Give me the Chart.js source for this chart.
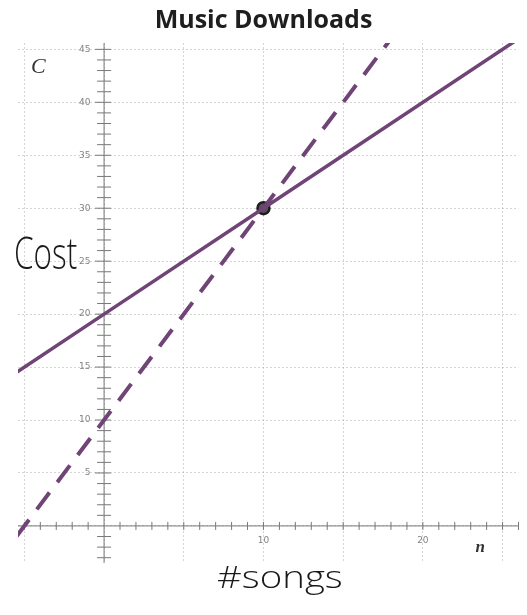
<!DOCTYPE html>
<html>
<head>
<meta charset="utf-8">
<script src="https://cdn.jsdelivr.net/npm/chart.js@4"></script>
<style>
	html, body { margin: 0; padding: 0; background: #fff; }
	#wrap { width: 527px; height: 615px; }
</style>
</head>
<body>
<div id="wrap"><canvas id="downloadsplot" width="527" height="615"></canvas></div>
<script>
const minN = -5.4; // Left edge of the grid (number of songs)
const maxN = 26; // Right edge of the grid
const minC = -3.5; // Bottom edge of the grid (cost)
const maxC = 45.6; // Top edge of the grid
const lineColor = 'rgba(112,68,118,1)';
const axisColor = 'rgba(120,120,120,1)';
const titleText = 'Music Downloads';

// Solid line: plan with a fee
const planA_n = [-5.5, 0, 10, 26];
const planA_C = [14.5, 20, 30, 46];
// Dashed line: plan without a fee
const planB_n = [-5.5, 0, 10, 18];
const planB_C = [-1, 10, 30, 46];
// Marked intersection
const meetN = [10];
const meetC = [30];
// Which tick labels are printed
const xLabels = [10, 20];
const yLabels = [5, 10, 15, 20, 25, 30, 35, 40, 45];

function toPoints(xs, ys) {
	return xs.map((x, i) => ({x: x, y: ys[i]}));
}

// Draws the axis lines with a tick at every unit, plus the written labels
const axesPlugin = {
	id: 'axesPlugin',
	beforeDatasetsDraw(chart) {
		const ctx = chart.ctx;
		const xs = chart.scales.x, ys = chart.scales.y;
		const x0 = xs.getPixelForValue(0), y0 = ys.getPixelForValue(0);
		const area = chart.chartArea;
		ctx.save();
		ctx.strokeStyle = axisColor;
		ctx.lineWidth = 1;
		ctx.beginPath();
		ctx.moveTo(x0, area.top); ctx.lineTo(x0, area.bottom);
		ctx.moveTo(area.left, y0); ctx.lineTo(area.right, y0);
		for (let c = Math.ceil(minC); c <= Math.floor(maxC); c++) {
			if (c == 0) continue;
			let py = ys.getPixelForValue(c);
			let left = (c % 5 == 0) ? 9 : 7;
			ctx.moveTo(x0 - left, py); ctx.lineTo(x0 + 7, py);
		}
		for (let n = Math.ceil(minN); n <= Math.floor(maxN); n++) {
			if (n == 0) continue;
			let px = xs.getPixelForValue(n);
			ctx.moveTo(px, y0 - 4); ctx.lineTo(px, y0 + 4);
		}
		ctx.stroke();
		ctx.restore();
	},
	afterDraw(chart) {
		const ctx = chart.ctx;
		const area = chart.chartArea;
		ctx.save();
		// Title is centred on the page, not on the plot area
		ctx.fillStyle = '#1e1e1e';
		ctx.textAlign = 'center';
		ctx.font = 'bold 25px "Open Sans"';
		ctx.fillText(titleText, chart.width / 2, 28);
		ctx.textAlign = 'left';
		ctx.fillStyle = '#333';
		ctx.font = 'italic 22px "Liberation Serif"';
		ctx.fillText('C', area.left + 13, area.top + 30);
		ctx.font = 'italic bold 17px "Liberation Serif"';
		ctx.fillText('n', area.right - 43, area.bottom - 11);
		ctx.fillStyle = '#1a1a1a';
		// handwritten-looking labels: thin and narrow
		ctx.save();
		ctx.translate(14, 269);
		ctx.scale(0.7, 1);
		ctx.font = '300 45px "Open Sans"';
		ctx.fillText('Cost', 0, 0);
		ctx.restore();
		ctx.save();
		ctx.translate(217, 588);
		ctx.scale(1.2, 1);
		ctx.font = '300 32px "Open Sans"';
		ctx.fillText('#songs', 0, 0);
		ctx.restore();
		ctx.restore();
	}
};

var downloadsplot = new Chart("downloadsplot", {
	type: "scatter",
	data: {
		datasets: [{
			data: toPoints(planA_n, planA_C),
			showLine: true,
			fill: false,
			pointRadius: 0,
			borderColor: lineColor,
			borderWidth: 3.5
		}, {
			data: toPoints(planB_n, planB_C),
			showLine: true,
			fill: false,
			pointRadius: 0,
			borderColor: lineColor,
			borderWidth: 4,
			borderDash: [21, 13]
		}, {
			data: toPoints(meetN, meetC),
			pointRadius: 6,
			pointBorderWidth: 2.5,
			pointBackgroundColor: 'rgba(90,80,90,1)',
			pointBorderColor: 'rgba(30,30,30,1)'
		}]
	},
	options: {
		animation: false,
		responsive: false,
		layout: {
			padding: {left: 18, right: 5, top: 43, bottom: 52}
		},
		plugins: {
			legend: { display: false },
			tooltip: { enabled: false },
			title: { display: false }
		},
		scales: {
			x: {
				type: 'linear',
				position: { y: 0 },
				min: minN,
				max: maxN,
				ticks: {
					stepSize: 5,
					includeBounds: false,
					autoSkip: false,
					maxRotation: 0,
					padding: 9,
					color: 'rgba(130,130,130,1)',
					font: { family: 'DejaVu Sans', size: 9 },
					callback: (v) => xLabels.includes(v) ? String(v) : ''
				},
				grid: {
					color: 'rgba(150,150,150,0.4)',
					drawTicks: false
				},
				border: { display: false, dash: [2, 2] }
			},
			y: {
				type: 'linear',
				position: { x: 0 },
				min: minC,
				max: maxC,
				ticks: {
					stepSize: 5,
					includeBounds: false,
					autoSkip: false,
					color: 'rgba(130,130,130,1)',
					font: { family: 'DejaVu Sans', size: 9 },
					// the label sits right-aligned on the axis, so pad it with spaces
					callback: (v) => yLabels.includes(v) ? String(v) + '\u2002\u2002\u2002' : ''
				},
				grid: {
					color: 'rgba(150,150,150,0.4)',
					drawTicks: false
				},
				border: { display: false, dash: [2, 2] }
			}
		}
	},
	plugins: [axesPlugin]
});
</script>
</body>
</html>
